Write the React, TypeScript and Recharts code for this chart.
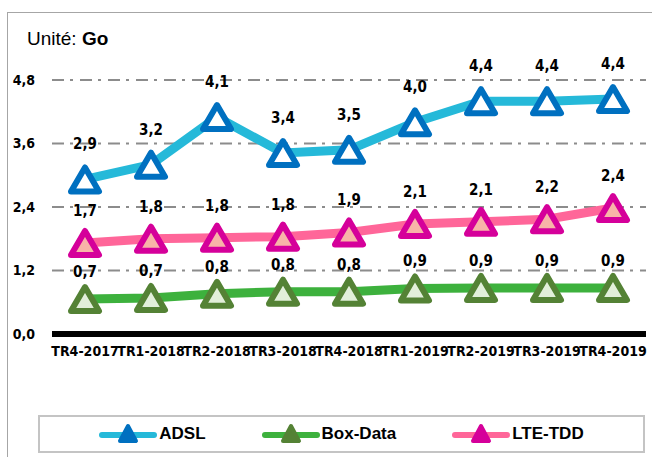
import { CartesianGrid, LabelList, Line, LineChart, XAxis, YAxis } from "recharts";

const quarters = [
  "TR4-2017", "TR1-2018", "TR2-2018", "TR3-2018", "TR4-2018",
  "TR1-2019", "TR2-2019", "TR3-2019", "TR4-2019",
];
const adsl = [2.92, 3.2, 4.1, 3.42, 3.48, 4.0, 4.4, 4.4, 4.44];
const boxData = [0.66, 0.68, 0.76, 0.8, 0.8, 0.86, 0.87, 0.87, 0.87];
const lteTdd = [1.72, 1.8, 1.82, 1.84, 1.92, 2.08, 2.12, 2.17, 2.38];
const yTicks = [0, 1.2, 2.4, 3.6, 4.8];

const data = quarters.map((q, i) => ({ q, adsl: adsl[i], box: boxData[i], lte: lteTdd[i] }));

const series = [
  { key: "adsl", name: "ADSL", line: "#25b9d9", mark: "#0070c0", fill: "#ffffff", lift: 35 },
  { key: "box", name: "Box-Data", line: "#3db13d", mark: "#548235", fill: "#e2efda", lift: 27 },
  { key: "lte", name: "LTE-TDD", line: "#ff6699", mark: "#d5009a", fill: "#f8b4a8", lift: 32 },
];

const fr = (v: number) => v.toFixed(1).replace(".", ",");
const numFont = "'DejaVu Sans Condensed', 'DejaVu Sans', sans-serif";
const txtFont = "'Liberation Sans', Arial, sans-serif";

function triangle(stroke: string, fill: string) {
  return (p: any) => {
    const { cx, cy, index } = p;
    if (cx == null || cy == null) return <g key={index} />;
    return (
      <path
        key={index}
        d={`M${cx},${cy - 12}L${cx + 14},${cy + 12}L${cx - 14},${cy + 12}Z`}
        stroke={stroke}
        fill={fill}
        strokeWidth={6}
        strokeLinejoin="round"
      />
    );
  };
}

function valueLabel(lift: number) {
  return (p: any) => (
    <text
      x={p.x}
      y={p.y - lift}
      textAnchor="middle"
      dominantBaseline="central"
      fontFamily={numFont}
      fontWeight="bold"
      fontSize={15}
      fill="#000"
    >
      {fr(Number(p.value))}
    </text>
  );
}

function LegendBox() {
  return (
    <div
      style={{
        position: "absolute",
        left: 38,
        top: 415,
        width: 603,
        height: 34,
        border: "2px solid #c4c4c4",
        display: "flex",
        alignItems: "center",
        justifyContent: "center",
        gap: 56,
      }}
    >
      {series.map((s) => (
        <div key={s.key} style={{ display: "flex", alignItems: "center", gap: 2 }}>
          <svg width={58} height={22}>
            <line x1={3} y1={12} x2={55} y2={12} stroke={s.line} strokeWidth={6} strokeLinecap="round" />
            <path d="M29,3L37,18L21,18Z" fill={s.mark} stroke={s.mark} strokeWidth={4} strokeLinejoin="round" />
          </svg>
          <span style={{ fontFamily: txtFont, fontWeight: "bold", fontSize: 17, color: "#000" }}>{s.name}</span>
        </div>
      ))}
    </div>
  );
}

export default function App() {
  return (
    <div style={{ position: "absolute", left: 0, top: 0, width: 652, height: 457, overflow: "hidden", background: "#fff" }}>
      <div
        style={{
          position: "absolute",
          left: 7,
          top: 12,
          width: 680,
          height: 480,
          border: "1.5px solid #a6a6a6",
        }}
      />
      <div style={{ position: "absolute", left: 27, top: 28, fontFamily: txtFont, fontSize: 19, color: "#000" }}>
        Unité: <b>Go</b>
      </div>
      <div style={{ position: "absolute", left: 0, top: 0 }}>
        <LineChart width={652} height={457} data={data} margin={{ top: 80, right: 6, left: 8, bottom: 93 }}>
          <CartesianGrid vertical={false} stroke="#8c8c8c" strokeWidth={2} strokeDasharray="12 6 3 7" />
          <XAxis
            dataKey="q"
            height={30}
            padding={{ left: 33, right: 33 }}
            axisLine={{ stroke: "#000", strokeWidth: 6 }}
            tickLine={false}
            tickSize={0}
            tickMargin={12}
            interval={0}
            tick={{ fill: "#000", fontSize: 14, fontWeight: "bold", fontFamily: numFont }}
          />
          <YAxis
            width={44}
            domain={[0, 4.8]}
            ticks={yTicks}
            axisLine={false}
            tickLine={false}
            tickSize={0}
            tickMargin={17}
            tickFormatter={fr}
            tick={{ fill: "#000", fontSize: 14, fontWeight: "bold", fontFamily: numFont }}
          />
          {series.map((s) => (
            <Line
              key={s.key}
              dataKey={s.key}
              name={s.name}
              type="linear"
              stroke={s.line}
              strokeWidth={9}
              dot={triangle(s.mark, s.fill)}
              activeDot={false}
              isAnimationActive={false}
            >
              <LabelList dataKey={s.key} content={valueLabel(s.lift)} />
            </Line>
          ))}
        </LineChart>
      </div>
      <LegendBox />
    </div>
  );
}
